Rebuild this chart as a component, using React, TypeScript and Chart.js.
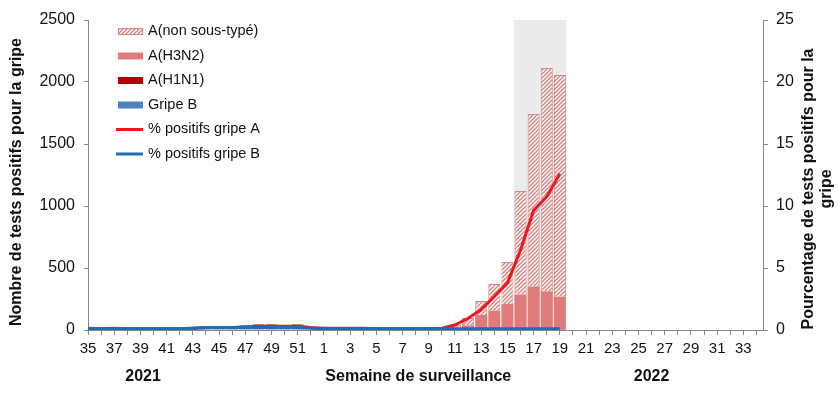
import { useEffect, useRef } from 'react';
import { Chart, registerables } from 'chart.js';

Chart.register(...registerables);

// Surveillance weeks: 2021 w35–w52, then 2022 w1–w34
const WEEKS = [35, 36, 37, 38, 39, 40, 41, 42, 43, 44, 45, 46, 47, 48, 49, 50, 51, 52,
  1, 2, 3, 4, 5, 6, 7, 8, 9, 10, 11, 12, 13, 14, 15, 16, 17, 18, 19, 20, 21, 22, 23, 24,
  25, 26, 27, 28, 29, 30, 31, 32, 33, 34];

const N = null;
const GRIPPE_B = [5, 3, 5, 3, 3, 3, 5, 5, 6, 8, 8, 8, 10, 10, 10, 8, 8, 5, 5, 5, 5, 5, 4, 4, 4, 4, 5, 5, 5, 5, 6, 6, 6, 6, 6, 5, 5,
  N, N, N, N, N, N, N, N, N, N, N, N, N, N, N];
const H1N1 = [1, 0, 1, 0, 0, 0, 0, 1, 1, 2, 2, 1, 2, 2, 2, 2, 2, 1, 1, 1, 1, 1, 0, 0, 0, 0, 1, 1, 1, 1, 2, 2, 2, 3, 3, 3, 3,
  N, N, N, N, N, N, N, N, N, N, N, N, N, N, N];
const H3N2 = [6, 3, 7, 3, 2, 2, 3, 3, 4, 10, 10, 8, 14, 16, 16, 14, 16, 10, 9, 8, 9, 6, 5, 5, 5, 5, 7, 9, 15, 32, 113, 148, 202, 277, 341, 304, 260,
  N, N, N, N, N, N, N, N, N, N, N, N, N, N, N];
const NON_SOUS_TYPE = [6, 4, 7, 4, 1, 1, 2, 3, 4, 10, 12, 8, 14, 20, 20, 16, 22, 10, 9, 8, 10, 6, 6, 6, 6, 6, 7, 10, 24, 59, 113, 215, 338, 835, 1392, 1801, 1788,
  N, N, N, N, N, N, N, N, N, N, N, N, N, N, N];
const PCT_A = [0.15, 0.1, 0.15, 0.1, 0.1, 0.1, 0.1, 0.1, 0.15, 0.2, 0.2, 0.2, 0.25, 0.3, 0.3, 0.3, 0.3, 0.2, 0.15, 0.15, 0.15, 0.15, 0.1, 0.1, 0.1, 0.1, 0.1, 0.15, 0.4, 0.95, 1.65, 2.7, 3.8, 6.45, 9.65, 10.75, 12.6,
  N, N, N, N, N, N, N, N, N, N, N, N, N, N, N];
const PCT_B = [0.1, 0.1, 0.1, 0.1, 0.1, 0.1, 0.1, 0.1, 0.15, 0.2, 0.2, 0.2, 0.2, 0.2, 0.2, 0.2, 0.2, 0.15, 0.1, 0.1, 0.1, 0.1, 0.1, 0.1, 0.1, 0.1, 0.1, 0.1, 0.1, 0.1, 0.1, 0.1, 0.1, 0.1, 0.1, 0.1, 0.1,
  N, N, N, N, N, N, N, N, N, N, N, N, N, N, N];

const Y_LEFT_MAX = 2500;
const Y_LEFT_STEP = 500;
const Y_RIGHT_MAX = 25;
const Y_RIGHT_STEP = 5;

const SHADE_FROM = 33; // 2022 w16
const SHADE_TO = 36;   // 2022 w19

const YEARS = [{ label: '2021', at: 4.2 }, { label: '2022', at: 43 }];
const X_TITLE = 'Semaine de surveillance';
const Y_TITLE = 'Nombre de tests positifs pour la gripe';
const Y1_TITLE = ['Pourcentage de tests positifs pour la', 'gripe'];

const FONT = '"Liberation Sans", Arial, sans-serif';
const AXIS_COLOR = '#868686';
const TEXT_COLOR = '#111111';

const toXY = (arr: (number | null)[]) => arr.map((v, i) => ({ x: i, y: v }));

export default function App() {
  const ref = useRef<HTMLCanvasElement>(null);

  useEffect(() => {
    document.body.style.margin = '0';
    const canvas = ref.current!;
    const tile = document.createElement('canvas');
    tile.width = 4;
    tile.height = 4;
    const t = tile.getContext('2d')!;
    t.fillStyle = '#ffffff';
    t.fillRect(0, 0, 4, 4);
    t.strokeStyle = '#d28888';
    t.lineWidth = 1.5;
    t.beginPath();
    t.moveTo(0, 4); t.lineTo(4, 0);
    t.moveTo(-1, 1); t.lineTo(1, -1);
    t.moveTo(3, 5); t.lineTo(5, 3);
    t.stroke();
    const hatch = canvas.getContext('2d')!.createPattern(tile, 'repeat')!;

    const decor = {
      id: 'decor',
      beforeDatasetsDraw(chart: any) {
        const { ctx, chartArea, scales } = chart;
        const x = scales.x;
        const x0 = x.getPixelForValue(SHADE_FROM - 0.5);
        const x1 = x.getPixelForValue(SHADE_TO + 0.5);
        ctx.save();
        ctx.fillStyle = '#ebebeb';
        ctx.fillRect(x0, chartArea.top, x1 - x0, chartArea.bottom - chartArea.top - 0.5);
        ctx.restore();
      },
      afterDraw(chart: any) {
        const { ctx, chartArea, scales } = chart;
        const x = scales.x;
        ctx.save();
        ctx.fillStyle = TEXT_COLOR;
        ctx.font = `bold 16px ${FONT}`;
        ctx.textAlign = 'center';
        ctx.textBaseline = 'middle';
        // x title + years
        ctx.fillText(X_TITLE, x.getPixelForValue(25.2), 377);
        YEARS.forEach((yr) => ctx.fillText(yr.label, x.getPixelForValue(yr.at), 377));
        // left title
        const cy = (chartArea.top + chartArea.bottom) / 2;
        ctx.save();
        ctx.translate(17, cy + 7);
        ctx.rotate(-Math.PI / 2);
        ctx.fillText(Y_TITLE, 0, 0);
        ctx.restore();
        // right title
        ctx.save();
        ctx.translate(809, cy + 14);
        ctx.rotate(-Math.PI / 2);
        ctx.fillText(Y1_TITLE[0], 0, 0);
        ctx.fillText(Y1_TITLE[1], 0, 18);
        ctx.restore();

        // legend
        const ds = chart.data.datasets;
        const order = [5, 4, 3, 2, 1, 0];
        ctx.font = `14.5px ${FONT}`;
        ctx.textAlign = 'left';
        order.forEach((di: number, r: number) => {
          const d = ds[di];
          const yy = 31 + r * 24.5;
          if (d.type === 'bar') {
            ctx.fillStyle = d.backgroundColor;
            ctx.fillRect(118, yy - 3, 25, 7);
            if (d.borderWidth) {
              ctx.strokeStyle = d.borderColor;
              ctx.lineWidth = 1;
              ctx.strokeRect(118.5, yy - 2.5, 24, 6);
            }
          } else {
            ctx.strokeStyle = d.borderColor;
            ctx.lineWidth = 3;
            ctx.beginPath();
            ctx.moveTo(116, yy + 0.5);
            ctx.lineTo(143, yy + 0.5);
            ctx.stroke();
          }
          ctx.fillStyle = TEXT_COLOR;
          ctx.fillText(d.label, 148, yy);
        });
        ctx.restore();
      },
    };

    const chart = new Chart(canvas, {
      type: 'bar',
      data: {
        datasets: [
          { type: 'line', label: '% positifs gripe B', data: toXY(PCT_B), yAxisID: 'y1', borderColor: '#1f6db3', borderWidth: 3, pointRadius: 0, tension: 0, order: 0 },
          { type: 'line', label: '% positifs gripe A', data: toXY(PCT_A), yAxisID: 'y1', borderColor: '#e8191f', borderWidth: 3, pointRadius: 0, tension: 0, order: 1 },
          { type: 'bar', label: 'Gripe B', data: toXY(GRIPPE_B), yAxisID: 'y', stack: 's', backgroundColor: '#4f81bd', order: 2 },
          { type: 'bar', label: 'A(H1N1)', data: toXY(H1N1), yAxisID: 'y', stack: 's', backgroundColor: '#b00000', order: 2 },
          { type: 'bar', label: 'A(H3N2)', data: toXY(H3N2), yAxisID: 'y', stack: 's', backgroundColor: '#e07b7b', order: 2 },
          { type: 'bar', label: 'A(non sous-typé)', data: toXY(NON_SOUS_TYPE), yAxisID: 'y', stack: 's', backgroundColor: hatch, borderColor: '#d28888', borderWidth: 1, order: 2 },
        ] as any,
      },
      options: {
        responsive: false,
        animation: false,
        layout: { padding: { top: 20, left: 0, right: 0, bottom: 0 } },
        plugins: { legend: { display: false }, tooltip: { enabled: false } },
        datasets: { bar: { categoryPercentage: 1, barPercentage: 0.92 } },
        scales: {
          x: {
            type: 'linear',
            min: 0,
            max: 51.5,
            offset: false,
            grid: { display: true, offset: false, drawOnChartArea: false, drawTicks: true, tickLength: 5, color: AXIS_COLOR },
            border: { display: true, color: AXIS_COLOR },
            afterBuildTicks: (s: any) => { s.ticks = WEEKS.map((_, i) => ({ value: i })); },
            ticks: {
              autoSkip: false, maxRotation: 0, minRotation: 0, padding: 5, color: TEXT_COLOR,
              font: { family: FONT, size: 15 },
              callback: (v: any) => (Number.isInteger(v) && v % 2 === 0 ? String(WEEKS[v]) : ''),
            },
            afterFit: (s: any) => { s.height = 63; },
          },
          y: {
            position: 'left',
            stacked: true,
            min: 0,
            max: Y_LEFT_MAX,
            grid: { drawOnChartArea: false, tickLength: 4, color: AXIS_COLOR },
            border: { color: AXIS_COLOR },
            ticks: { stepSize: Y_LEFT_STEP, padding: 9, color: TEXT_COLOR, font: { family: FONT, size: 16 }, callback: (v: any) => String(v) },
            afterFit: (s: any) => { s.width = 88; },
          },
          y1: {
            position: 'right',
            min: 0,
            max: Y_RIGHT_MAX,
            grid: { drawOnChartArea: false, tickLength: 5, color: AXIS_COLOR },
            border: { color: AXIS_COLOR },
            ticks: { stepSize: Y_RIGHT_STEP, padding: 8, color: TEXT_COLOR, font: { family: FONT, size: 16 }, callback: (v: any) => String(v) },
            afterFit: (s: any) => { s.width = 75; },
          },
        },
      } as any,
      plugins: [decor],
    });
    return () => chart.destroy();
  }, []);

  return <canvas ref={ref} width={838} height={393} style={{ display: 'block' }} />;
}
